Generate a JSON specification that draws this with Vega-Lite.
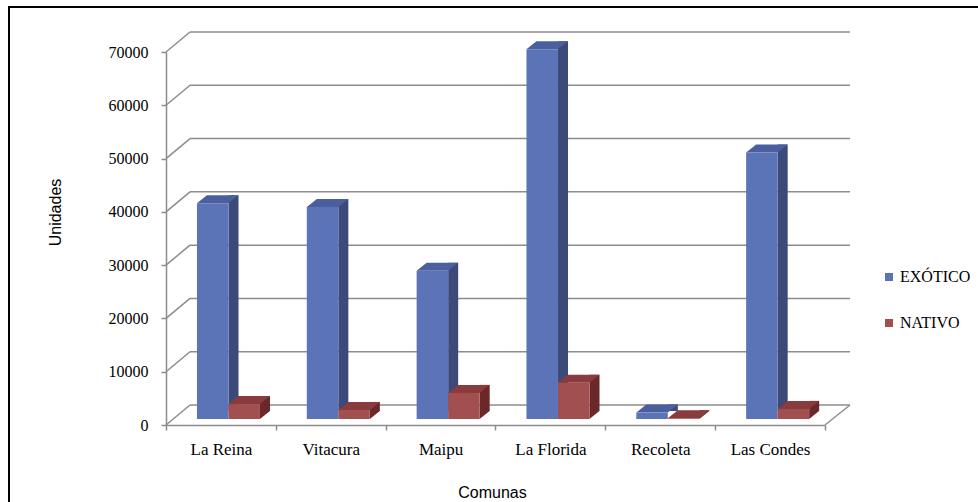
{
  "$schema": "https://vega.github.io/schema/vega-lite/v6.json",
  "width": 972,
  "height": 497,
  "autosize": {"type": "none"},
  "padding": {"left": 9, "top": 7, "right": 0, "bottom": 0},
  "background": "white",
  "config": {
    "view": {"stroke": "black", "strokeWidth": 2},
    "axis": {
      "domainColor": "#8c8c8c",
      "domainWidth": 1.5,
      "tickColor": "#8c8c8c",
      "tickWidth": 1.5,
      "tickSize": 5,
      "grid": false,
      "labelColor": "black",
      "labelFont": "Liberation Serif",
      "titleColor": "black",
      "titleFont": "Liberation Sans",
      "titleFontSize": 16,
      "titleFontWeight": "normal"
    },
    "axisX": {
      "offset": -79,
      "tickBand": "extent",
      "labelFontSize": 17,
      "labelAngle": 0,
      "labelPadding": 11,
      "titleX": 483,
      "titleY": 72,
      "titleBaseline": "alphabetic"
    },
    "axisY": {
      "offset": -157,
      "format": "d",
      "tickCount": 7,
      "labelFontSize": 16,
      "labelPadding": 13,
      "titleX": -111,
      "titleY": 205,
      "titleAngle": -90,
      "titleAlign": "center",
      "titleBaseline": "middle"
    }
  },
  "datasets": {
    "unidades": [
      {"comuna": "La Reina", "serie": "EXÓTICO", "unidades": 40500},
      {"comuna": "La Reina", "serie": "NATIVO", "unidades": 2800},
      {"comuna": "Vitacura", "serie": "EXÓTICO", "unidades": 39800},
      {"comuna": "Vitacura", "serie": "NATIVO", "unidades": 1700},
      {"comuna": "Maipu", "serie": "EXÓTICO", "unidades": 27800},
      {"comuna": "Maipu", "serie": "NATIVO", "unidades": 4900},
      {"comuna": "La Florida", "serie": "EXÓTICO", "unidades": 69400},
      {"comuna": "La Florida", "serie": "NATIVO", "unidades": 6800},
      {"comuna": "Recoleta", "serie": "EXÓTICO", "unidades": 1200},
      {"comuna": "Recoleta", "serie": "NATIVO", "unidades": 150},
      {"comuna": "Las Condes", "serie": "EXÓTICO", "unidades": 50000},
      {"comuna": "Las Condes", "serie": "NATIVO", "unidades": 1900}
    ],
    "marcas": [
      {"valor": 0}, {"valor": 10000}, {"valor": 20000}, {"valor": 30000},
      {"valor": 40000}, {"valor": 50000}, {"valor": 60000}, {"valor": 70000}
    ]
  },
  "layer": [
    {
      "data": {"name": "marcas"},
      "mark": {"type": "rule", "color": "#8c8c8c", "strokeWidth": 1.5, "xOffset": 24, "x2Offset": 25, "yOffset": -20},
      "encoding": {
        "x": {"datum": "La Reina", "type": "nominal", "bandPosition": 0, "title": "Comunas",
              "scale": {"type": "band", "domain": ["La Reina", "Vitacura", "Maipu", "La Florida", "Recoleta", "Las Condes"], "range": [157, 816], "paddingInner": 0, "paddingOuter": 0}},
        "x2": {"datum": "Las Condes", "bandPosition": 1},
        "y": {"field": "valor", "type": "quantitative", "title": "Unidades",
              "scale": {"domain": [0, 70000], "range": [418, 45], "nice": false}}
      }
    },
    {
      "data": {"name": "marcas"},
      "mark": {"type": "rule", "color": "#8c8c8c", "strokeWidth": 1.5, "x2Offset": 24, "y2Offset": -20},
      "encoding": {
        "x": {"datum": "La Reina", "type": "nominal", "bandPosition": 0, "title": "Comunas"},
        "x2": {"datum": "La Reina", "bandPosition": 0},
        "y": {"field": "valor", "type": "quantitative", "title": "Unidades"},
        "y2": {"field": "valor"}
      }
    },
    {
      "data": {"values": [{"borde": "piso"}]},
      "mark": {"type": "rule", "color": "#8c8c8c", "strokeWidth": 1.5, "x2Offset": 25, "y2Offset": -20},
      "encoding": {
        "x": {"datum": "Las Condes", "type": "nominal", "bandPosition": 1, "title": "Comunas"},
        "x2": {"datum": "Las Condes", "bandPosition": 1},
        "y": {"datum": 0, "type": "quantitative", "title": "Unidades"},
        "y2": {"datum": 0}
      }
    },
    {
      "data": {"name": "unidades"},
      "transform": [{"filter": "datum.serie === 'EXÓTICO'"}],
      "mark": {"type": "bar", "width": 10, "xOffset": 12.6, "yOffset": -14, "y2Offset": -14, "color": "#3c4a79"},
      "encoding": {
        "x": {"field": "comuna", "type": "nominal", "sort": null, "title": "Comunas"},
        "y": {"field": "unidades", "type": "quantitative", "title": "Unidades"}
      }
    },
    {
      "data": {"name": "unidades"},
      "transform": [{"filter": "datum.serie === 'EXÓTICO'"}],
      "mark": {"type": "point", "shape": "M-15.75,0L15.75,0L25.75,-8L-5.75,-8Z", "size": 4, "filled": true, "opacity": 1, "strokeWidth": 0, "xOffset": -8.2, "yOffset": -6, "color": "#4b5f9e"},
      "encoding": {
        "x": {"field": "comuna", "type": "nominal", "sort": null, "title": "Comunas"},
        "y": {"field": "unidades", "type": "quantitative", "title": "Unidades"}
      }
    },
    {
      "data": {"name": "unidades"},
      "transform": [{"filter": "datum.serie === 'EXÓTICO'"}],
      "mark": {"type": "bar", "width": 31.5, "xOffset": -8.2, "yOffset": -6, "y2Offset": -6},
      "encoding": {
        "x": {"field": "comuna", "type": "nominal", "sort": null, "title": "Comunas"},
        "y": {"field": "unidades", "type": "quantitative", "title": "Unidades"},
        "color": {
          "field": "serie", "type": "nominal",
          "scale": {"domain": ["EXÓTICO", "NATIVO"], "range": ["#5b74b7", "#a14f4f"]},
          "legend": {"orient": "none", "legendX": 872, "legendY": 262, "title": null, "symbolType": "square", "symbolSize": 64, "symbolStrokeWidth": 0, "labelFont": "Liberation Serif", "labelFontSize": 16, "labelColor": "black", "labelOffset": 3, "rowPadding": 30}
        }
      }
    },
    {
      "data": {"name": "unidades"},
      "transform": [{"filter": "datum.serie === 'NATIVO'"}],
      "mark": {"type": "bar", "width": 10, "xOffset": 44.1, "yOffset": -14, "y2Offset": -14, "color": "#6b2829"},
      "encoding": {
        "x": {"field": "comuna", "type": "nominal", "sort": null, "title": "Comunas"},
        "y": {"field": "unidades", "type": "quantitative", "title": "Unidades"}
      }
    },
    {
      "data": {"name": "unidades"},
      "transform": [{"filter": "datum.serie === 'NATIVO'"}],
      "mark": {"type": "point", "shape": "M15.75,-8L25.75,-8L15.75,0Z", "size": 4, "filled": true, "opacity": 1, "strokeWidth": 0, "xOffset": 23.3, "yOffset": -6, "color": "#6b2829"},
      "encoding": {
        "x": {"field": "comuna", "type": "nominal", "sort": null, "title": "Comunas"},
        "y": {"datum": 0, "type": "quantitative", "title": "Unidades"}
      }
    },
    {
      "data": {"name": "unidades"},
      "transform": [{"filter": "datum.serie === 'NATIVO'"}],
      "mark": {"type": "point", "shape": "M-15.75,0L15.75,0L25.75,-8L-5.75,-8Z", "size": 4, "filled": true, "opacity": 1, "strokeWidth": 0, "xOffset": 23.3, "yOffset": -6, "color": "#8a3b3d"},
      "encoding": {
        "x": {"field": "comuna", "type": "nominal", "sort": null, "title": "Comunas"},
        "y": {"field": "unidades", "type": "quantitative", "title": "Unidades"}
      }
    },
    {
      "data": {"name": "unidades"},
      "transform": [{"filter": "datum.serie === 'NATIVO'"}],
      "mark": {"type": "bar", "width": 31.5, "xOffset": 23.3, "yOffset": -6, "y2Offset": -6},
      "encoding": {
        "x": {"field": "comuna", "type": "nominal", "sort": null, "title": "Comunas"},
        "y": {"field": "unidades", "type": "quantitative", "title": "Unidades"},
        "color": {
          "field": "serie", "type": "nominal",
          "scale": {"domain": ["EXÓTICO", "NATIVO"], "range": ["#5b74b7", "#a14f4f"]},
          "legend": {"orient": "none", "legendX": 872, "legendY": 262, "title": null, "symbolType": "square", "symbolSize": 64, "symbolStrokeWidth": 0, "labelFont": "Liberation Serif", "labelFontSize": 16, "labelColor": "black", "labelOffset": 3, "rowPadding": 30}
        }
      }
    }
  ]
}
